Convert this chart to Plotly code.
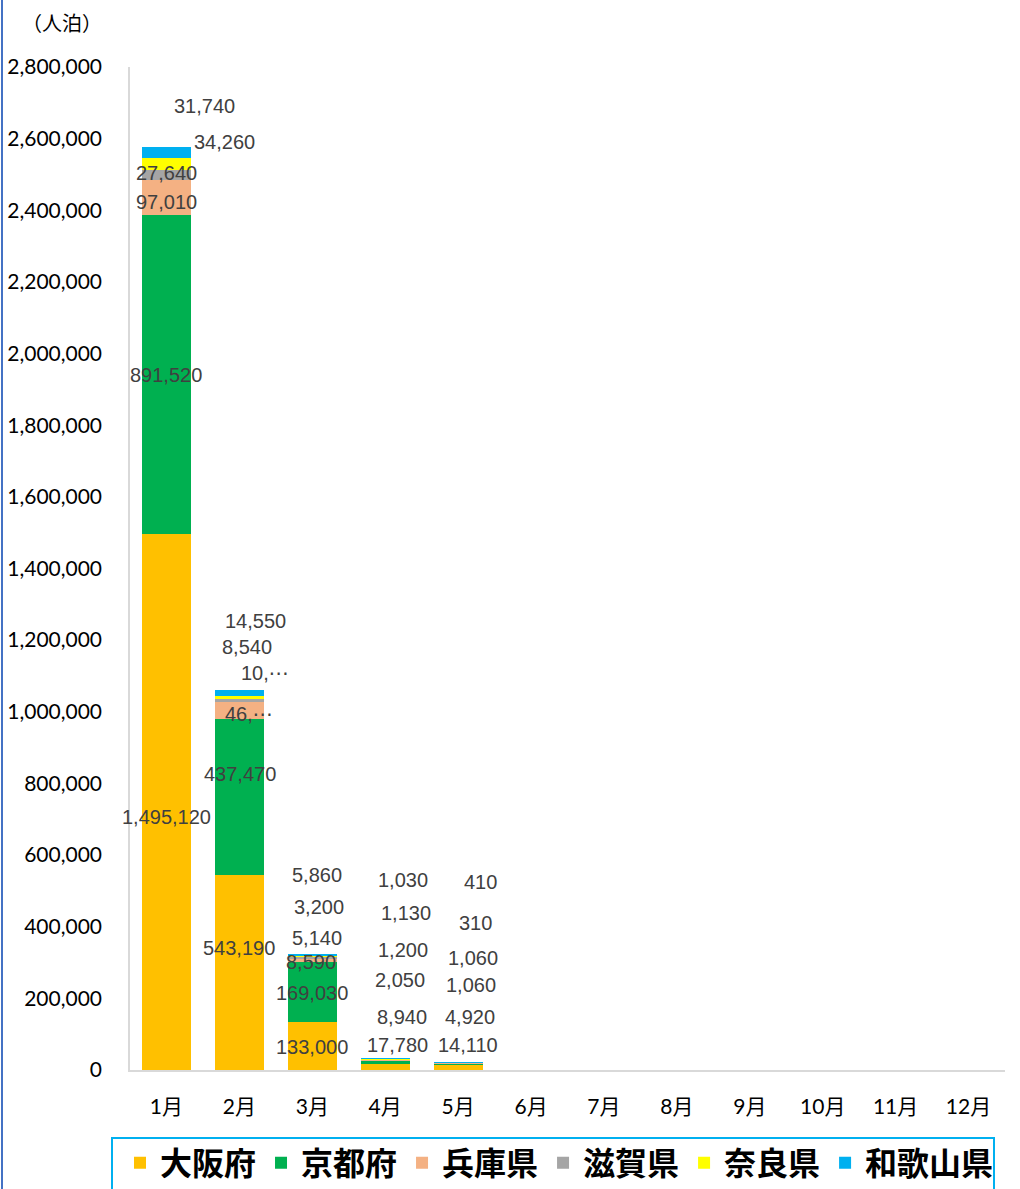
import plotly.graph_objects as go

# ---- data ----
months = ["1月", "2月", "3月", "4月", "5月", "6月", "7月", "8月", "9月", "10月", "11月", "12月"]
series_names = ["大阪府", "京都府", "兵庫県", "滋賀県", "奈良県", "和歌山県"]
osaka    = [1495120, 543190, 133000, 17780, 14110]
kyoto    = [891520, 437470, 169030, 8940, 4920]
hyogo    = [97010, 46000, 8590, 2050, 1060]
shiga    = [27640, 10000, 5140, 1200, 1060]
nara     = [34260, 8540, 3200, 1130, 310]
wakayama = [31740, 14550, 5860, 1030, 410]
y_ticks = list(range(0, 2800001, 200000))

# ---- styles ----
colors = ["#FFC000", "#00B050", "#F4B183", "#A5A5A5", "#FFFF00", "#00B0F0"]
all_series = [osaka, kyoto, hyogo, shiga, nara, wakayama]

# label pixel offsets (xshift, yshift) per month index / series index
label_offsets = {
    0: [(0, -15), (0, 0), (0, -4), (0, 2), (58, 22), (38, 46)],
    1: [(0, 25), (1, 23), (10, -4), (26, 27), (8, 50), (16, 72)],
    2: [(0, -1), (0, -1), (-1, -2), (5, 20), (7, 49), (5, 80)],
    3: [(12, 22), (17, 45), (15, 80), (18, 109), (21, 146), (18, 179)],
    4: [(10, 22), (12, 47), (13, 78), (15, 105), (17, 139), (22, 180)],
}
truncated = {(1, 2), (1, 3)}

Y_MAX = 2800000
L, R, T, B = 130, 15, 67, 119
W, H = 1020, 1189
plot_w = W - L - R
plot_h = H - T - B


def px_x(p):
    return (p - L) / plot_w


def px_y(p):
    return (H - B - p) / plot_h


fig = go.Figure()
for name, vals, col in zip(series_names, all_series, colors):
    fig.add_trace(go.Bar(
        x=months[:len(vals)], y=vals, name=name,
        marker=dict(color=col, line=dict(width=0)),
        hoverinfo="skip",
    ))

annotations = []
for mi in range(len(osaka)):
    cum = 0
    for si, vals in enumerate(all_series):
        v = vals[mi]
        center = cum + v / 2
        cum += v
        txt = f"{v:,}"
        if (mi, si) in truncated:
            txt = txt[:3] + "⋯"
        dx, dy = label_offsets[mi][si]
        annotations.append(dict(
            x=months[mi], y=center, xref="x", yref="y", text=txt,
            showarrow=False, xshift=dx, yshift=dy,
            font=dict(family="Liberation Sans, DejaVu Sans", size=20, color="#404040"),
        ))

annotations.append(dict(
    x=px_x(62), y=px_y(23), xref="paper", yref="paper", text="（人泊）",
    showarrow=False, xanchor="center", yanchor="middle",
    font=dict(family="Noto Sans CJK JP", size=20, color="#000000"),
))

shapes = [
    # left frame line
    dict(type="line", xref="paper", yref="paper", x0=px_x(2), x1=px_x(2), y0=px_y(0), y1=px_y(H),
         line=dict(color="#4472C4", width=2)),
    # legend border
    dict(type="rect", xref="paper", yref="paper", x0=px_x(112), x1=px_x(994), y0=px_y(1138), y1=px_y(1200),
         line=dict(color="#00B0F0", width=2), fillcolor="rgba(0,0,0,0)"),
]

fig.update_layout(
    width=W, height=H,
    margin=dict(l=L, r=R, t=T, b=B, pad=0, autoexpand=False),
    barmode="stack",
    bargap=0.328,
    plot_bgcolor="white", paper_bgcolor="white",
    annotations=annotations,
    shapes=shapes,
    showlegend=True,
    legend=dict(
        orientation="h", x=px_x(120), xanchor="left", y=px_y(1163), yanchor="middle",
        font=dict(family="Noto Sans CJK JP", size=32, color="#000000", weight="bold"),
        itemwidth=30,
        bgcolor="rgba(0,0,0,0)", borderwidth=0, traceorder="normal",
    ),
    xaxis=dict(
        type="category", categoryorder="array", categoryarray=months,
        range=[-0.5, 11.5],
        showline=True, linecolor="#D9D9D9", linewidth=1.5,
        ticks="", showgrid=False, zeroline=False,
        tickfont=dict(family="Lato, Noto Sans CJK JP", size=21, color="#000000"),
        ticklabelstandoff=17,
    ),
    yaxis=dict(
        range=[0, Y_MAX], tickvals=y_ticks, tickformat=",d",
        showline=True, linecolor="#D9D9D9", linewidth=1.5,
        ticks="", showgrid=False, zeroline=False,
        tickfont=dict(family="Lato", size=21, color="#000000"),
        ticklabelstandoff=22,
    ),
)

fig.write_html(
    "out.html",
    config={"displayModeBar": False},
    post_script="document.body.style.margin='0';",
)
